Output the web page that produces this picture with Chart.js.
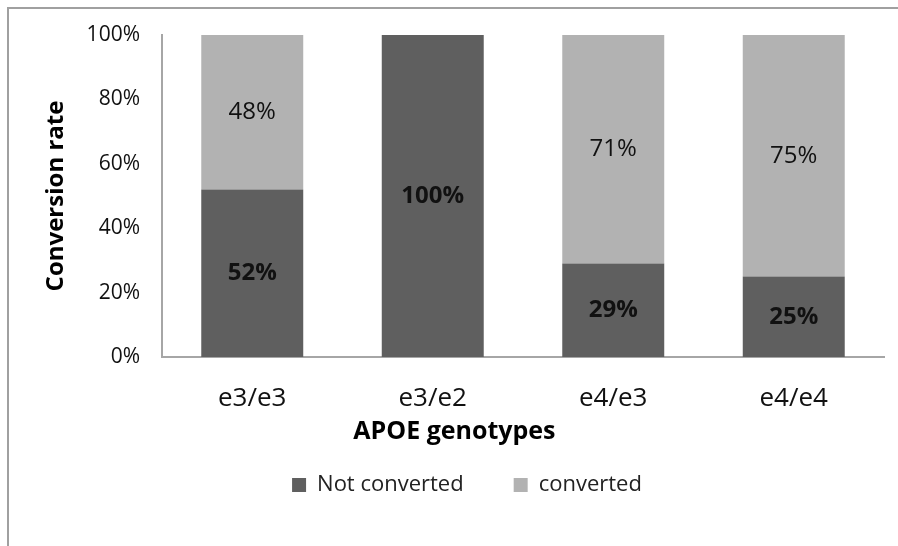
<!DOCTYPE html>
<html>
<head>
<meta charset="utf-8">
<script src="https://cdn.jsdelivr.net/npm/chart.js@4.4.1/dist/chart.umd.min.js"></script>
<style>
  html, body { margin: 0; padding: 0; background: #fff; }
  #wrap { position: relative; width: 898px; height: 546px; }
  #frame { position: absolute; left: 7px; top: 7px; right: 0; bottom: 0;
           border-top: 2px solid #a0a0a0; border-left: 2px solid #a0a0a0; pointer-events: none; }
</style>
</head>
<body>
<div id="wrap">
  <canvas id="apoeChart" width="898" height="546"></canvas>
  <div id="frame"></div>
</div>
<script>
const genotypes = ['e3/e3', 'e3/e2', 'e4/e3', 'e4/e4'];
const notConverted = [52, 100, 29, 25];
const converted = [48, 0, 71, 75];
const yTicks = [0, 20, 40, 60, 80, 100];

const fontFamily = '"Open Sans", "Noto Sans", sans-serif';
const xTitle = 'APOE genotypes';

// percentages inside each stacked segment, plus the off-centre x axis title
const barLabels = {
  id: 'barLabels',
  afterLayout(chart) {
    // original legend sits a little right of the canvas centre
    chart.legend.left += 25;
    chart.legend.right += 25;
  },
  afterDatasetsDraw(chart) {
    const ctx = chart.ctx;
    ctx.save();
    ctx.textAlign = 'center';
    ctx.textBaseline = 'middle';
    ctx.fillStyle = '#111';
    chart.data.datasets.forEach((ds, i) => {
      const meta = chart.getDatasetMeta(i);
      ctx.font = (i === 0 ? 'bold ' : '') + '24px ' + fontFamily;
      meta.data.forEach((bar, j) => {
        const v = ds.data[j];
        if (!v) return;
        const p = bar.getProps(['x', 'y', 'base'], true);
        ctx.fillText(v + '%', p.x, (p.y + p.base) / 2);
      });
    });
    const xs = chart.scales.x;
    ctx.fillStyle = '#000';
    ctx.font = 'bold 25px ' + fontFamily;
    ctx.fillText(xTitle, xs.left + (xs.right - xs.left) * 0.405, 432);
    ctx.restore();
  }
};

const ctx = document.getElementById('apoeChart').getContext('2d');
new Chart(ctx, {
  type: 'bar',
  data: {
    labels: genotypes,
    datasets: [
      { label: 'Not converted', data: notConverted, backgroundColor: '#5f5f5f', barPercentage: 0.565, categoryPercentage: 1 },
      { label: 'converted', data: converted, backgroundColor: '#b2b2b2', barPercentage: 0.565, categoryPercentage: 1 }
    ]
  },
  options: {
    responsive: false,
    animation: false,
    layout: { padding: { top: 35, right: 14, left: 0, bottom: 40 } },
    plugins: {
      legend: {
        position: 'bottom',
        labels: {
          color: '#222',
          font: { family: fontFamily, size: 22 },
          boxWidth: 14,
          boxHeight: 14,
          padding: 50
        }
      },
      tooltip: { enabled: false }
    },
    scales: {
      x: {
        stacked: true,
        grid: { display: false },
        border: { display: true, color: '#a6a6a6', width: 2 },
        ticks: { color: '#111', font: { family: fontFamily, size: 26 }, padding: 18 },
        afterFit(scale) { scale.height = 67; }
      },
      y: {
        stacked: true,
        min: 0,
        max: 100,
        grid: { display: false },
        border: { display: true, color: '#a6a6a6', width: 2 },
        ticks: {
          color: '#111',
          font: { family: fontFamily, size: 21 },
          padding: 14,
          stepSize: 20,
          callback: (v) => yTicks.includes(v) ? v + '%' : ''
        },
        title: {
          display: true,
          text: 'Conversion rate',
          color: '#000',
          font: { family: fontFamily, size: 24, weight: 'bold' },
          padding: { top: 42, bottom: 0 }
        },
        afterFit(scale) { scale.width = 162; }
      }
    }
  },
  plugins: [barLabels]
});
</script>
</body>
</html>
